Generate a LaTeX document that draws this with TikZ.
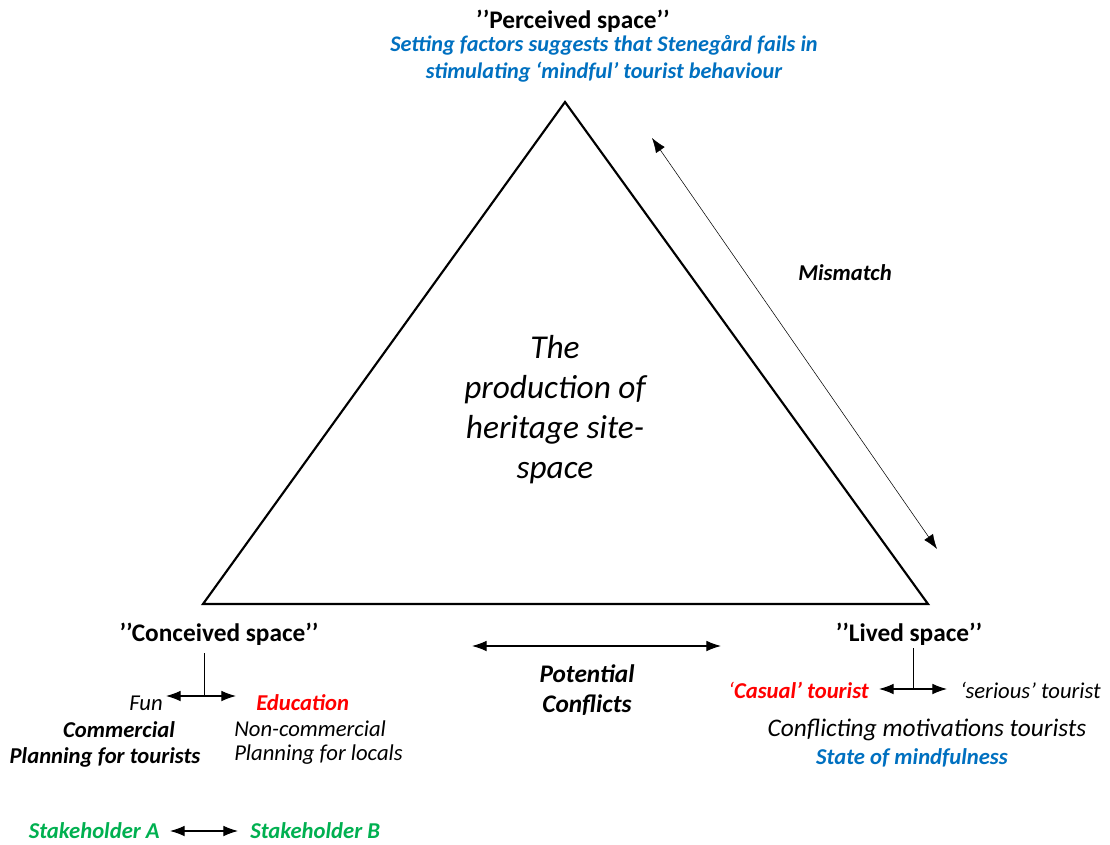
\documentclass[tikz,border=0pt]{standalone}
\usepackage{fontspec}
\setmainfont{Carlito}
\usetikzlibrary{arrows.meta}
\definecolor{offblue}{HTML}{0070C0}
\definecolor{offred}{HTML}{FF0000}
\definecolor{offgreen}{HTML}{00B050}
\begin{document}
\begin{tikzpicture}[x=0.75pt,y=-0.75pt,
  lbl/.style={inner sep=0pt,font=\fontsize{17}{20}\selectfont\itshape},
  blbl/.style={inner sep=0pt,font=\fontsize{17}{20}\selectfont\bfseries\itshape},
  head/.style={inner sep=0pt,font=\fontsize{19}{22}\selectfont\bfseries},
  dbl/.style={{Latex[length=11pt,width=8pt]}-{Latex[length=11pt,width=8pt]}, line width=0.8pt},
  dblthin/.style={{Latex[length=11pt,width=8pt]}-{Latex[length=11pt,width=8pt]}, line width=0.4pt},
  stem/.style={line width=0.7pt}]
\useasboundingbox (0,0) rectangle (1110,845);

% triangle
\coordinate (apex) at (565,102);
\coordinate (bl) at (203,604);
\coordinate (br) at (928,604);
\draw[line width=1.6pt, line join=miter] (apex) -- (bl) -- (br) -- cycle;

% centre text
\node[inner sep=0pt, align=center, font=\fontsize{25}{30}\selectfont\itshape] (core) at (555,410)
  {The\\production of\\heritage site-\\space};

% top corner
\node[head] (perceived) at (573,21) {’’Perceived space’’};
\node[inner sep=0pt, text=offblue, align=center, font=\fontsize{16.7}{20.3}\selectfont\bfseries\itshape] (setting) at (604,59)
  {Setting factors suggests that Stenegård fails in\\stimulating ‘mindful’ tourist behaviour};

% mismatch
\coordinate (mmA) at (652,138);
\coordinate (mmB) at (937,549);
\draw[dblthin] (mmA) -- (mmB);
\node[blbl] (mismatch) at (845,273) {Mismatch};

% bottom left
\node[head] (conceived) at (219,634) {’’Conceived space’’};
\coordinate (ctop) at (204,653);
\coordinate (cjoin) at (204,696);
\coordinate (cL) at (166,696);
\coordinate (cR) at (236,696);
\draw[stem] (ctop) -- (cjoin);
\draw[dbl] (cL) -- (cR);
\node[lbl, anchor=east] (fun) at (163,703) {Fun};
\node[blbl, text=offred, anchor=west] (edu) at (256,703) {Education};
\node[blbl] (comm) at (119,730) {Commercial};
\node[blbl] (plant) at (105,757) {Planning for tourists};
\node[lbl, anchor=west] (noncomm) at (234,729) {Non-commercial};
\node[lbl, anchor=west] (planl) at (234,755) {Planning for locals};

% bottom middle
\coordinate (pL) at (472,646);
\coordinate (pR) at (721,646);
\draw[dbl] (pL) -- (pR);
\node[inner sep=0pt, align=center, font=\fontsize{19}{22.5}\selectfont\bfseries\itshape] (conflicts) at (587,690) {Potential\\Conflicts};

% bottom right
\node[head] (lived) at (909,634) {’’Lived space’’};
\coordinate (ltop) at (913,648);
\coordinate (ljoin) at (913,689);
\coordinate (lL) at (879,689);
\coordinate (lR) at (947,689);
\draw[stem] (ltop) -- (ljoin);
\draw[dbl] (lL) -- (lR);
\node[lbl, anchor=east] (casual) at (869,690) {\textcolor{offred}{‘}\textcolor{offred}{\bfseries Casual’ tourist}};
\node[lbl, anchor=west] (serious) at (960,690) {‘serious’ tourist};
\node[inner sep=0pt, font=\fontsize{19}{22}\selectfont\itshape] (motiv) at (927,730) {Conflicting motivations tourists};
\node[blbl, text=offblue] (mindful) at (912,758) {State of mindfulness};

% stakeholders
\node[blbl, text=offgreen, anchor=east] (sha) at (160,831) {Stakeholder A};
\node[blbl, text=offgreen, anchor=west] (shb) at (250,831) {Stakeholder B};
\coordinate (sA) at (170,831);
\coordinate (sB) at (238,831);
\draw[dbl] (sA) -- (sB);
\end{tikzpicture}
\end{document}
